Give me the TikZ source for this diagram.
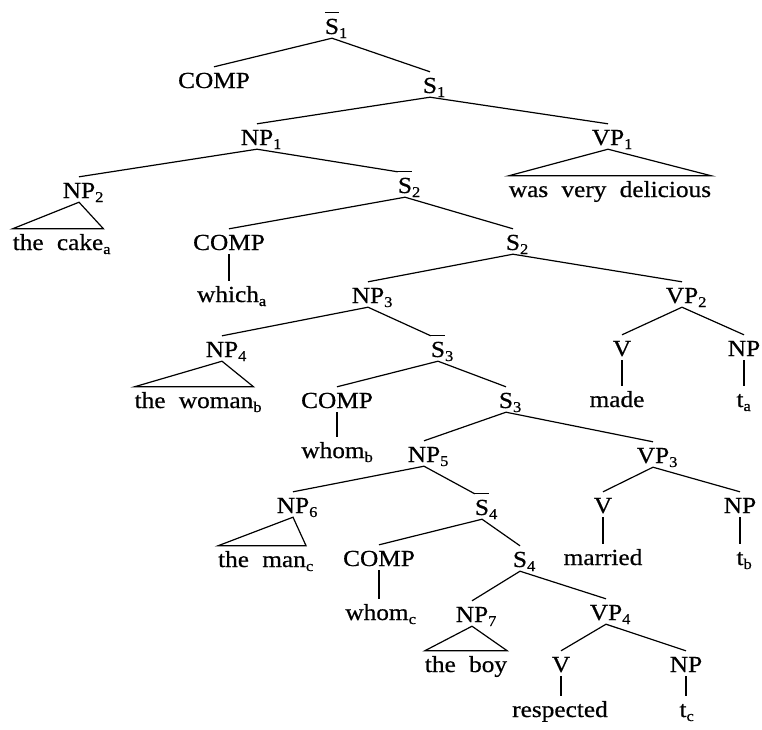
\documentclass[tikz,border=0pt]{standalone}
\usepackage{fontspec}
\setmainfont[FakeStretch=1.1,FakeBold=0.6,WordSpace=2.1]{Liberation Serif}
\newsavebox{\sbarbox}
\newcommand\subs[1]{\rlap{\raisebox{-4pt}{\fontsize{15}{15}\selectfont #1}}}
\newcommand\Sbar{\sbox{\sbarbox}{S}\rlap{\rule[21pt]{\wd\sbarbox}{0.9pt}}S}
\begin{document}
\begin{tikzpicture}[x=1pt,y=-1pt,
  lab/.style={anchor=base,inner sep=0pt,text height=21pt,text depth=4pt,
    font=\fontsize{23}{27}\selectfont},
  edge/.style={line width=1.2pt}]
\useasboundingbox (0,0) rectangle (762,729);
% level nodes
\node[lab] (s1bar) at (332,34) {\Sbar\subs{1}};
\node[lab] (comp1) at (214,88) {COMP};
\node[lab] (s1) at (430,93) {S\subs{1}};
\node[lab] (np1) at (257,145) {NP\subs{1}};
\node[lab] (vp1) at (608,145) {VP\subs{1}};
\node[lab] (vp1leaf) at (610,197) {was very delicious};
\node[lab] (np2) at (79,198) {NP\subs{2}};
\node[lab] (cake) at (58,250) {the cake\subs{a}};
\node[lab] (s2bar) at (405,193) {\Sbar\subs{2}};
\node[lab] (comp2) at (229,250) {COMP};
\node[lab] (which) at (228,302) {which\subs{a}};
\node[lab] (s2) at (513,250) {S\subs{2}};
\node[lab] (np3) at (368,303) {NP\subs{3}};
\node[lab] (vp2) at (682,303) {VP\subs{2}};
\node[lab] (v2) at (622,356) {V};
\node[lab] (made) at (617,407) {made};
\node[lab] (npt2) at (744,356) {NP};
\node[lab] (ta) at (740,407) {t\subs{a}};
\node[lab] (np4) at (222,357) {NP\subs{4}};
\node[lab] (woman) at (194,408) {the woman\subs{b}};
\node[lab] (s3bar) at (438,357) {\Sbar\subs{3}};
\node[lab] (comp3) at (337,408) {COMP};
\node[lab] (whomb) at (333,458) {whom\subs{b}};
\node[lab] (s3) at (506,408) {S\subs{3}};
\node[lab] (np5) at (424,462) {NP\subs{5}};
\node[lab] (vp3) at (653,463) {VP\subs{3}};
\node[lab] (v3) at (603,513) {V};
\node[lab] (married) at (603,565) {married};
\node[lab] (npt3) at (740,513) {NP};
\node[lab] (tb) at (740,565) {t\subs{b}};
\node[lab] (np6) at (293,513) {NP\subs{6}};
\node[lab] (man) at (262,567) {the man\subs{c}};
\node[lab] (s4bar) at (482,515) {\Sbar\subs{4}};
\node[lab] (comp4) at (379,566) {COMP};
\node[lab] (whomc) at (377,620) {whom\subs{c}};
\node[lab] (s4) at (520,567) {S\subs{4}};
\node[lab] (np7) at (472,622) {NP\subs{7}};
\node[lab] (boy) at (466,672) {the boy};
\node[lab] (vp4) at (606,620) {VP\subs{4}};
\node[lab] (v4) at (561,672) {V};
\node[lab] (resp) at (560,717) {respected};
\node[lab] (npt4) at (686,672) {NP};
\node[lab] (tc) at (683,717) {t\subs{c}};
% branches
\draw[edge] (comp1.north) -- (s1bar.south) -- (s1.north);
\draw[edge] (np1.north) -- (s1.south) -- (vp1.north);
\draw[edge] (np2.north) -- (np1.south) -- (s2bar.north west);
\draw[edge] (comp2.north) -- (s2bar.south) -- (s2.north);
\draw[edge] (np3.north) -- (s2.south) -- (vp2.north);
\draw[edge] (v2.north) -- (vp2.south) -- (npt2.north);
\draw[edge] (np4.north) -- (np3.south) -- (s3bar.north west);
\draw[edge] (comp3.north) -- (s3bar.south) -- (s3.north);
\draw[edge] (np5.north) -- (s3.south) -- (vp3.north);
\draw[edge] (v3.north) -- (vp3.south) -- (npt3.north);
\draw[edge] (np6.north) -- (np5.south) -- (s4bar.north west);
\draw[edge] (comp4.north) -- (s4bar.south) -- (s4.north);
\draw[edge] (np7.north) -- (s4.south) -- (vp4.north);
\draw[edge] (v4.north) -- (vp4.south) -- (npt4.north);
% unary lines
\draw[edge] (comp2.south) -- (comp2.south |- which.north);
\draw[edge] (v2.south) -- (v2.south |- made.north);
\draw[edge] (npt2.south) -- (npt2.south |- ta.north);
\draw[edge] (comp3.south) -- (comp3.south |- whomb.north);
\draw[edge] (v3.south) -- (v3.south |- married.north);
\draw[edge] (npt3.south) -- (npt3.south |- tb.north);
\draw[edge] (comp4.south) -- (comp4.south |- whomc.north);
\draw[edge] (v4.south) -- (v4.south |- resp.north);
\draw[edge] (npt4.south) -- (npt4.south |- tc.north);
% triangles
\draw[edge] (vp1.south) -- (vp1leaf.north west) -- (vp1leaf.north east) -- cycle;
\draw[edge] (np2.south) -- (cake.north west) -- (cake.north east) -- cycle;
\draw[edge] (np4.south) -- (woman.north west) -- (woman.north east) -- cycle;
\draw[edge] (np6.south) -- (man.north west) -- (man.north east) -- cycle;
\draw[edge] (np7.south) -- (boy.north west) -- (boy.north east) -- cycle;
\end{tikzpicture}
\end{document}
